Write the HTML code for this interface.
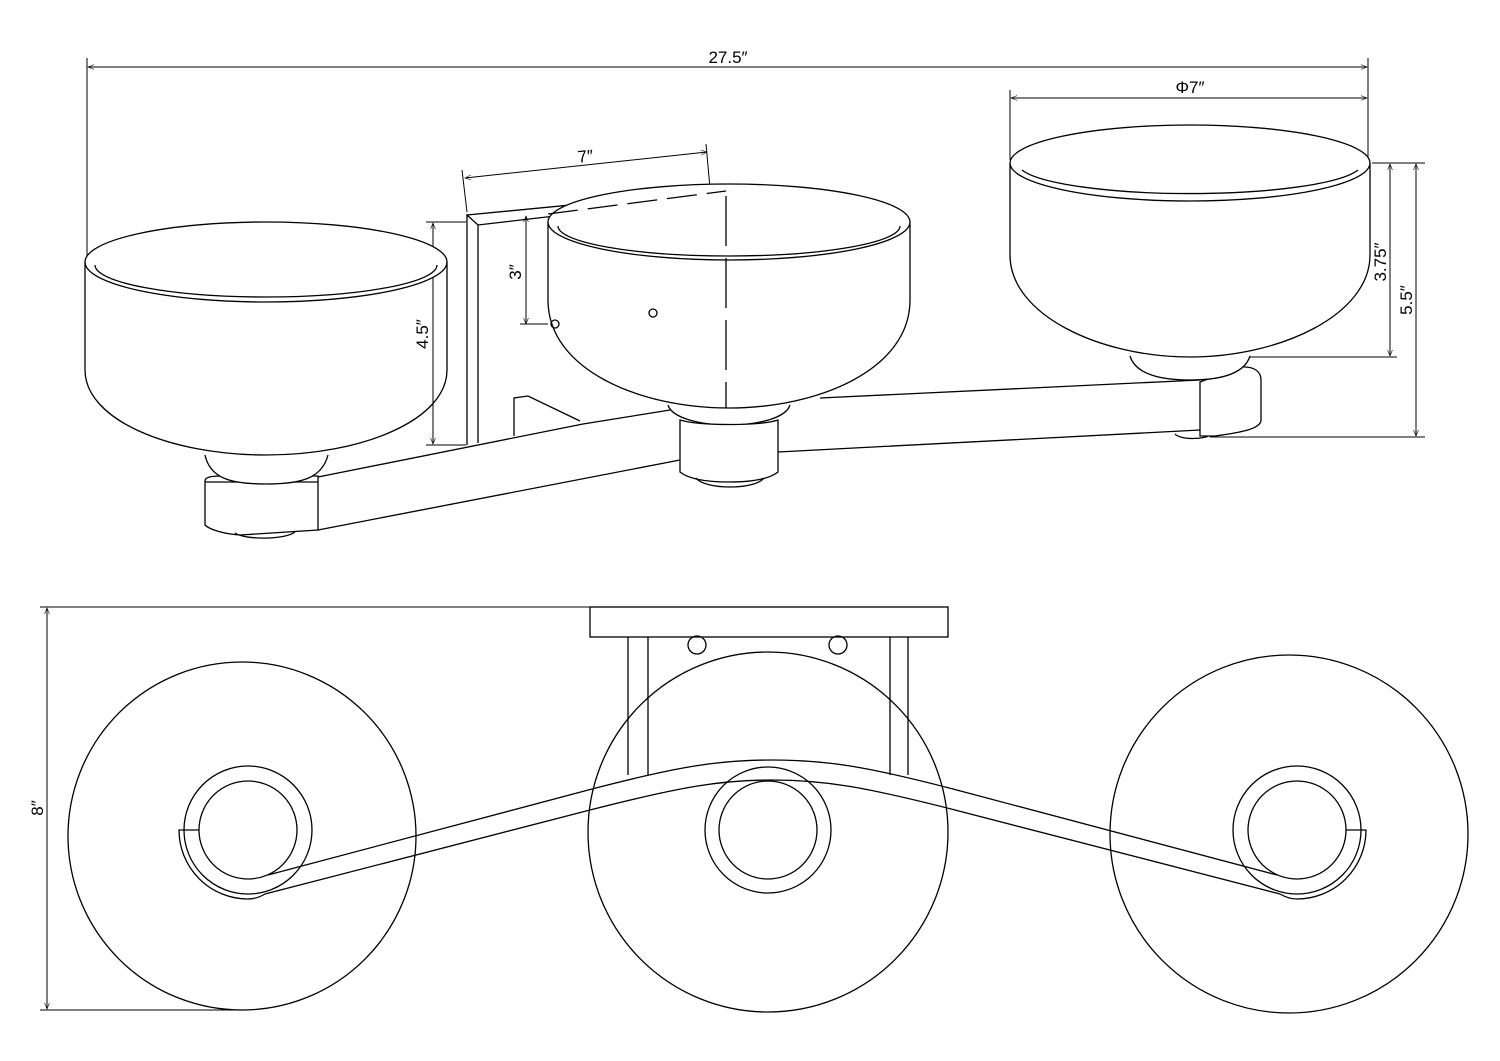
<!DOCTYPE html>
<html><head><meta charset="utf-8"><style>
html,body{margin:0;padding:0;background:#fff}
svg{display:block}
text{font-family:"Liberation Sans",sans-serif;font-size:17px;fill:#000}
</style></head><body>
<svg width="1500" height="1061" viewBox="0 0 1500 1061" xmlns="http://www.w3.org/2000/svg">
<defs>
<marker id="a" viewBox="0 0 10 10" refX="10" refY="5" markerWidth="12" markerHeight="6" orient="auto-start-reverse" markerUnits="userSpaceOnUse"><path d="M0,1 L10,5 L0,9" fill="none" stroke="#000" stroke-width="1"/></marker>
</defs>
<g fill="none" stroke="#000" stroke-width="1.3">
<line x1="87" y1="58" x2="87" y2="262" stroke-width="1"/>
<line x1="1368" y1="58" x2="1368" y2="160" stroke-width="1"/>
<line x1="88" y1="67" x2="1367" y2="67" stroke-width="1" marker-start="url(#a)" marker-end="url(#a)"/>
<line x1="1010" y1="90" x2="1010" y2="160" stroke-width="1"/>
<line x1="1011" y1="98" x2="1367" y2="98" stroke-width="1" marker-start="url(#a)" marker-end="url(#a)"/>
<!-- arm -->
<path d="M318,477 L583,424 L670,410 M318,530 L680,460 M778,452 L1200,430 M820,398 L1200,380"/>
<!-- right end block -->
<path d="M1175,434 C1180,440 1205,440 1212,434" fill="#fff"/>
<path d="M1200,382 L1240,367 C1255,366 1261,372 1261,380 L1261,420 C1261,428 1245,432 1215,436 L1200,436 Z" fill="#fff"/>
<!-- right bowl -->
<path d="M1130,356 C1135,372 1155,380 1190,380 C1225,380 1245,372 1250,356" fill="#fff"/>
<path d="M1010,163 L1010,255 C1010,315 1100,357 1190,357 C1280,357 1370,315 1370,255 L1370,163" fill="#fff"/>
<path d="M1010,163 A180,38 0 0 1 1370,163 A180,38 0 0 1 1010,163 Z" fill="#fff"/>
<path d="M1022,170 A172,30 0 0 0 1358,170"/>
<line x1="1372" y1="163" x2="1425" y2="163" stroke-width="1"/>
<line x1="1250" y1="357" x2="1397" y2="357" stroke-width="1"/>
<line x1="1210" y1="437" x2="1425" y2="437" stroke-width="1"/>
<line x1="1390" y1="164" x2="1390" y2="356" stroke-width="1" marker-start="url(#a)" marker-end="url(#a)"/>
<line x1="1416" y1="164" x2="1416" y2="436" stroke-width="1" marker-start="url(#a)" marker-end="url(#a)"/>
<!-- back plate -->
<path d="M467,215 L467,445 M478,225 L478,443 M467,215 L478,225 L726,196 L716,191 Z" fill="#fff"/>
<line x1="462" y1="170" x2="467" y2="212" stroke-width="1"/>
<line x1="706" y1="144" x2="710" y2="188" stroke-width="1"/>
<line x1="465" y1="178" x2="707" y2="152" stroke-width="1" marker-start="url(#a)" marker-end="url(#a)"/>
<line x1="426" y1="222" x2="466" y2="222" stroke-width="1"/>
<line x1="426" y1="445" x2="466" y2="445" stroke-width="1"/>
<line x1="433" y1="223" x2="433" y2="444" stroke-width="1" marker-start="url(#a)" marker-end="url(#a)"/>
<line x1="526" y1="216" x2="526" y2="324" stroke-width="1" marker-start="url(#a)" marker-end="url(#a)"/>
<line x1="520" y1="324" x2="548" y2="324" stroke-width="1"/>
<path d="M514,436 L514,398 L528,396 L580,421"/>
<!-- left end block -->
<path d="M205,481 C205,476 215,476 225,476 L318,476 L318,530 L240,535 C225,534 210,530 205,525 Z" fill="#fff"/>
<line x1="205" y1="482" x2="318" y2="482"/>
<path d="M235,533 C245,540 285,540 295,532"/>
<!-- left bowl -->
<path d="M205,455 C210,478 230,484 266,484 C302,484 322,478 328,455" fill="#fff"/>
<path d="M85,262 A181,40 0 0 1 447,262 A181,40 0 0 1 85,262 Z" fill="#fff"/>
<path d="M95,265 A171,32 0 0 0 437,265"/>
<path d="M85,262 L85,370 C85,420 170,455 266,455 C362,455 447,420 447,370 L447,262"/>
<!-- center bowl -->
<path d="M668,405 C672,418 700,425 729,425 C758,425 786,418 790,405" fill="#fff"/>
<path d="M680,420 L680,472 C690,480 710,482 729,482 C748,482 768,480 778,472 L778,420 C760,426 700,426 680,420 Z" fill="#fff"/>
<path d="M696,478 C705,490 755,490 764,478"/>
<path d="M548,222 L548,300 C548,370 640,408 729,408 C818,408 910,370 910,300 L910,222" fill="#fff"/>
<path d="M548,222 A181,38 0 0 1 910,222 A181,38 0 0 1 548,222 Z" fill="#fff"/>
<path d="M558,226 A171,30 0 0 0 900,226"/>
<path d="M548,214 L726,191" stroke-dasharray="30,10"/>
<line x1="726" y1="196" x2="726" y2="408" stroke-dasharray="50,12"/>
<circle cx="555" cy="324" r="4"/>
<circle cx="653" cy="313" r="4"/>

<!-- bottom view -->
<line x1="40" y1="607" x2="590" y2="607" stroke-width="1"/>
<line x1="40" y1="1010" x2="242" y2="1010" stroke-width="1"/>
<line x1="47" y1="608" x2="47" y2="1009" stroke-width="1" marker-start="url(#a)" marker-end="url(#a)"/>
<rect x="590" y="607" width="358" height="30"/>
<path d="M628,637 V775 M648,637 V775 M890,637 V775 M908,637 V775"/>
<circle cx="697" cy="645" r="9"/>
<circle cx="838" cy="645" r="9"/>
<circle cx="242" cy="836" r="174"/>
<circle cx="768" cy="832" r="180"/>
<circle cx="1289" cy="834" r="179"/>
<circle cx="248" cy="830" r="64"/>
<circle cx="248" cy="830" r="49"/>
<circle cx="768" cy="830" r="63"/>
<circle cx="768" cy="830" r="49"/>
<circle cx="1297" cy="830" r="64"/>
<circle cx="1297" cy="830" r="49"/>
<path d="M268,875 L592,789 C680,766 720,760 772,760 C825,760 865,766 953,789 L1277,875"/>
<path d="M265,894 L590,810 C680,787 720,780 772,780 C825,780 865,787 955,810 L1280,894"/>
<path d="M199,830 L179,830 A69,69 0 0 0 248,899 C255,899 260,897 265,894"/>
<path d="M1346,830 L1366,830 A69,69 0 0 1 1297,899 C1290,899 1285,897 1280,894"/>
</g>
<text x="728" y="63" text-anchor="middle">27.5″</text>
<text x="1190" y="93" text-anchor="middle">Φ7″</text>
<text x="0" y="0" text-anchor="middle" transform="translate(586,162) rotate(-6)">7″</text>
<text x="0" y="0" text-anchor="middle" transform="translate(428,334) rotate(-90)">4.5″</text>
<text x="0" y="0" text-anchor="middle" transform="translate(521,272) rotate(-90)">3″</text>
<text x="0" y="0" text-anchor="middle" transform="translate(1386,262) rotate(-90)">3.75″</text>
<text x="0" y="0" text-anchor="middle" transform="translate(1412,300) rotate(-90)">5.5″</text>
<text x="0" y="0" text-anchor="middle" transform="translate(43,808) rotate(-90)">8″</text>
</svg>
</body></html>
